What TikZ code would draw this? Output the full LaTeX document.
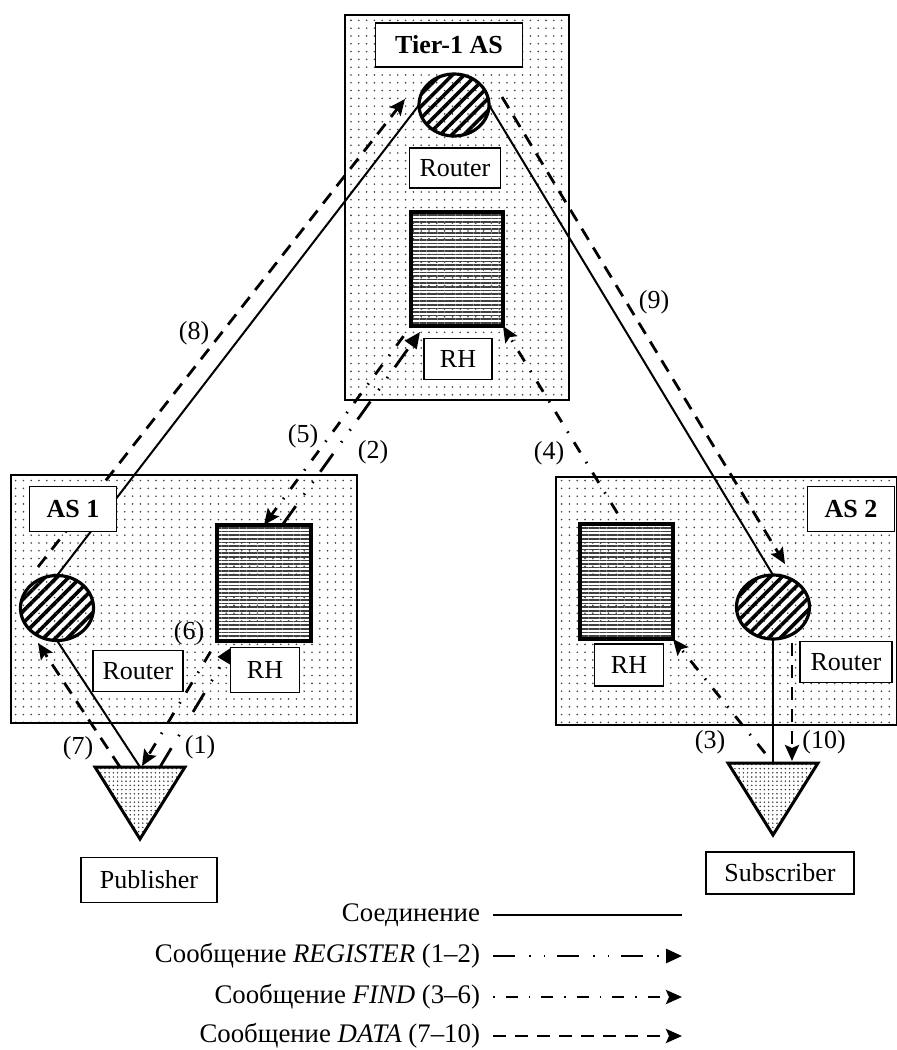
\documentclass[tikz,border=0pt]{standalone}
\usepackage{fontspec}
\setmainfont{Liberation Serif}
\usetikzlibrary{shapes.geometric,patterns,patterns.meta,arrows.meta}

\pgfdeclarepatternformonly{asdots}{\pgfqpoint{-1pt}{-1pt}}{\pgfqpoint{1pt}{1pt}}{\pgfqpoint{3.9pt}{3.9pt}}{\pgfpathcircle{\pgfpointorigin}{0.45pt}\pgfusepath{fill}}
\pgfdeclarepatternformonly{hostdots}{\pgfqpoint{-1pt}{-1pt}}{\pgfqpoint{1pt}{1pt}}{\pgfqpoint{2.1pt}{2.1pt}}{\pgfpathcircle{\pgfpointorigin}{0.42pt}\pgfusepath{fill}}

\begin{document}
\begin{tikzpicture}[x=0.5pt,y=-0.5pt,font=\fontsize{13}{15}\selectfont,
  asbox/.style={draw,line width=1pt,outer sep=0pt,pattern=asdots,pattern color=black!75},
  lbl/.style={draw,line width=0.75pt,fill=white,inner sep=0pt,outer sep=0pt},
  router/.style={ellipse,draw,line width=1.6pt,outer sep=0pt,pattern={Lines[angle=45,distance=4.2pt,line width=1.8pt]}},
  rhbox/.style={draw,line width=2pt,outer sep=0pt,pattern={Lines[angle=0,distance=1.8pt,line width=0.8pt]},pattern color=black!75},
  hosttri/.style={draw,line width=1.5pt,line join=miter,pattern=hostdots,pattern color=black!80},
  conn/.style={line width=1pt},
  reg/.style={line width=1.4pt,dash pattern=on 11pt off 7pt on 0.8pt off 6.5pt on 0.8pt off 6pt,-{Triangle[length=8pt,width=7pt]}},
  find/.style={line width=1.4pt,dash pattern=on 0.8pt off 5.5pt on 6pt off 5.5pt,-{Stealth[length=8pt,width=7pt,inset=1.5pt]}},
  data/.style={line width=1.4pt,dash pattern=on 6.5pt off 4.5pt,-{Stealth[length=8pt,width=7pt,inset=1.5pt]}},
  num/.style={inner sep=1pt},
  key/.style={anchor=east,font=\fontsize{13.4}{16}\selectfont}]
\useasboundingbox (0,0) rectangle (896,1050);
\node[asbox,minimum width=112pt,minimum height=192.5pt] (t1) at (457,207.5) {};
\node[asbox,minimum width=173pt,minimum height=124pt] (as1) at (184,599) {};
\node[asbox,minimum width=170.5pt,minimum height=124pt] (as2) at (726.5,601) {};
\node[router,minimum width=35pt,minimum height=31pt] (r0) at (454,105) {};
\node[router,minimum width=36.5pt,minimum height=32.5pt] (r1) at (57,608) {};
\node[router,minimum width=36.5pt,minimum height=32pt] (r2) at (773,607) {};
\node[rhbox,minimum width=46pt,minimum height=57pt] (h0) at (457,269) {};
\node[rhbox,minimum width=47pt,minimum height=58pt] (h1) at (264,583) {};
\node[rhbox,minimum width=46.5pt,minimum height=57.5pt] (h2) at (626.5,581.5) {};
\draw[hosttri] (95,767) -- (185,767) -- (140,839) -- cycle;
\draw[hosttri] (728,763) -- (818,763) -- (773,835) -- cycle;
\coordinate (pubtop) at (140,767);
\coordinate (subtop) at (773,763);
\coordinate (p1) at (160,767);
\coordinate (p6) at (142,766);
\coordinate (p7) at (120,767);
\coordinate (h1reg) at (232,647);
\coordinate (h1up) at (283,524);
\coordinate (h0reg) at (420,332);
\coordinate (h2up) at (624,524);
\coordinate (r1lo) at (38,643);
\coordinate (r1hi) at (38,567);
\coordinate (r0in) at (405,99);
\coordinate (r0out) at (502,97);
\coordinate (r2in) at (785,564);
\coordinate (r2lo) at (792,643);
\coordinate (s10) at (792,761);
\draw[conn] (r0.west) -- (r1.north);
\draw[conn] (r1.south) -- (pubtop);
\draw[conn] (r0.east) -- (r2.north);
\draw[conn] (r2.south) -- (subtop);
\draw[reg] (p1) -- (h1reg);
\draw[reg] (h1up) -- (h0reg);
\draw[find] (subtop) -- (h2.south east);
\draw[find] (h2up) -- (h0.south east);
\draw[find] (h0.south west) -- (h1.north);
\draw[find] (h1.south west) -- (p6);
\draw[data] (p7) -- (r1lo);
\draw[data] (r1hi) -- (r0in);
\draw[data] (r0out) -- (r2in);
\draw[data] (r2lo) -- (s10);
\node[lbl,minimum width=73.5pt,minimum height=22pt,font=\fontsize{13}{15}\selectfont\bfseries] (lt) at (449,45) {Tier-1 AS};
\node[lbl,minimum width=45.5pt,minimum height=20pt] (lr0) at (455,168) {Router};
\node[lbl,minimum width=34pt,minimum height=20.5pt] (lh0) at (458,359) {RH};
\node[lbl,minimum width=43.5pt,minimum height=22.5pt,font=\fontsize{13}{15}\selectfont\bfseries] (la1) at (73,509) {AS 1};
\node[lbl,minimum width=45pt,minimum height=20.5pt] (lr1) at (138,671) {Router};
\node[lbl,minimum width=34.5pt,minimum height=22.5pt] (lh1) at (265,670) {RH};
\node[lbl,minimum width=43.5pt,minimum height=22.5pt,font=\fontsize{13}{15}\selectfont\bfseries] (la2) at (851,509) {AS 2};
\node[lbl,minimum width=46pt,minimum height=20.5pt] (lr2) at (846,662) {Router};
\node[lbl,minimum width=34.5pt,minimum height=21pt] (lh2) at (629,665) {RH};
\node[lbl,minimum width=68pt,minimum height=22.5pt] (lp) at (149,880) {Publisher};
\node[lbl,minimum width=74pt,minimum height=21pt] (ls) at (780,873) {Subscriber};
\node[num] (n1) at (200,747) {(1)};
\node[num] (n2) at (373,452) {(2)};
\node[num] (n3) at (710,742) {(3)};
\node[num] (n4) at (549,453) {(4)};
\node[num] (n5) at (303,436) {(5)};
\node[num] (n6) at (189,633) {(6)};
\node[num] (n7) at (78,748) {(7)};
\node[num] (n8) at (194,333) {(8)};
\node[num] (n9) at (654,302) {(9)};
\node[num] (n10) at (824,742) {(10)};
\node[key] (k0) at (487,915) {Соединение};
\node[key] (k1) at (487,956) {Сообщение \textit{REGISTER} (1--2)};
\node[key] (k2) at (487,997) {Сообщение \textit{FIND} (3--6)};
\node[key] (k3) at (487,1036) {Сообщение \textit{DATA} (7--10)};
\coordinate (e0) at (682,915);
\coordinate (e1) at (682,956);
\coordinate (e2) at (682,997);
\coordinate (e3) at (682,1036);
\draw[conn,line width=1.4pt] ([xshift=3pt]k0.east) -- (e0);
\draw[reg] ([xshift=3pt]k1.east) -- (e1);
\draw[find] ([xshift=3pt]k2.east) -- (e2);
\draw[data] ([xshift=3pt]k3.east) -- (e3);
\end{tikzpicture}
\end{document}
